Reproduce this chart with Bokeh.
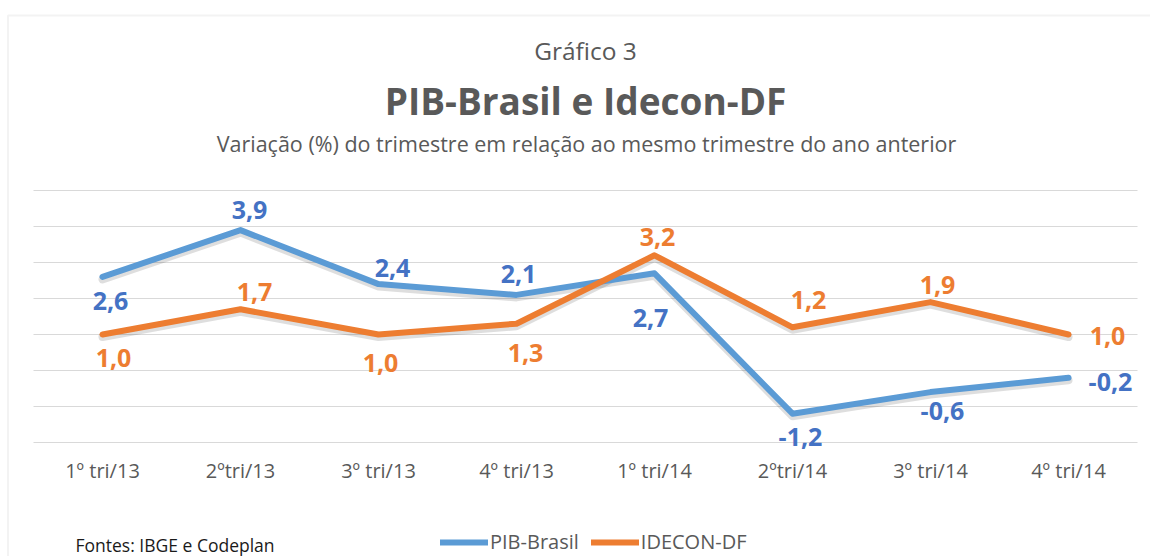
from bokeh.plotting import figure
from bokeh.models import (Range1d, Legend, LegendItem, BoxAnnotation, ColumnDataSource)
from bokeh.transform import dodge
from bokeh.core.properties import value
from bokeh.embed import file_html
from bokeh.resources import INLINE

# ---------------- data ----------------
quarters = ["1º tri/13", "2ºtri/13", "3º tri/13", "4º tri/13",
            "1º tri/14", "2ºtri/14", "3º tri/14", "4º tri/14"]
pib_brasil = [2.6, 3.9, 2.4, 2.1, 2.7, -1.2, -0.6, -0.2]
idecon_df = [1.0, 1.7, 1.0, 1.3, 3.2, 1.2, 1.9, 1.0]
y_ticks = [-2, -1, 0, 1, 2, 3, 4, 5]

# label placement (style: screen px offsets from each point)
pib_dx = [8, 9, 14, 2, -4, 8, 12, 42]
pib_dy = [24, -20, -16, -21, 45, 23, 19, 4]
ide_dx = [11, 14, 2, 9, 3, 16, 7, 39]
ide_dy = [23, -17, 28, 29, -18, -27, -17, 1]

FONT = "Open Sans"
BLUE_LINE = "#5B9BD5"
BLUE_TXT = "#4472C4"
ORANGE = "#ED7D31"
GRAY = "#595959"

# ---------------- layout (pixels, canvas coordinates) ----------------
W, H = 1150, 556
PLOT_L, PLOT_R = 33, 1137   # x extent of the category band
Y_TOP_PX, PX_PER_UNIT = 190, 36.0
N = len(quarters)
BAND = (PLOT_R - PLOT_L) / N
YMAX = max(y_ticks)


def px(cx):
    return (cx - PLOT_L) / BAND


def py(cy):
    return YMAX - (cy - Y_TOP_PX) / PX_PER_UNIT


def fmt(v):
    return f"{v:.1f}".replace(".", ",")


p = figure(width=W, height=H, title=None,
           x_range=Range1d(px(0), px(W)), y_range=Range1d(py(H), py(0)),
           output_backend="svg", toolbar_location=None,
           x_axis_location=None, y_axis_location=None, min_border=0)
p.outline_line_color = None
p.background_fill_color = "white"
p.border_fill_color = "white"
p.xgrid.visible = False
p.ygrid.visible = False

xc = [i + 0.5 for i in range(N)]

# horizontal gridlines across the category band
p.segment(x0=[0] * len(y_ticks), x1=[N] * len(y_ticks), y0=y_ticks, y1=y_ticks,
          line_color="#d9d9d9", line_width=1)

# category labels
p.text(x=xc, y=[py(470)] * N, text=quarters, text_align="center",
       text_baseline="middle", text_font=value(FONT), text_font_size="20px",
       text_color=GRAY)

src_b = ColumnDataSource(dict(x=xc, y=pib_brasil, lab=[fmt(v) for v in pib_brasil],
                              dx=pib_dx, dy=pib_dy))
src_o = ColumnDataSource(dict(x=xc, y=idecon_df, lab=[fmt(v) for v in idecon_df],
                              dx=ide_dx, dy=ide_dy))

# soft shadows
for src in (src_b, src_o):
    p.line(x="x", y=dodge("y", -0.07, range=p.y_range), source=src,
           line_color="black", line_alpha=0.13, line_width=8,
           line_cap="round", line_join="round")

rb = p.line(x="x", y="y", source=src_b, line_color=BLUE_LINE, line_width=6,
            line_cap="round", line_join="round")
ro = p.line(x="x", y="y", source=src_o, line_color=ORANGE, line_width=6,
            line_cap="round", line_join="round")

for src, col in ((src_b, BLUE_TXT), (src_o, ORANGE)):
    p.text(x="x", y="y", text="lab", x_offset="dx", y_offset="dy", source=src,
           text_align="center", text_baseline="middle",
           text_font=value(FONT), text_font_style="bold",
           text_font_size="25px", text_color=col)

# titles
p.text(x=[px(585)], y=[py(50)], text=["Gráfico 3"], text_align="center",
       text_baseline="middle", text_font=value(FONT), text_font_size="24.5px",
       text_color=GRAY)
p.text(x=[px(585)], y=[py(100)], text=["PIB-Brasil e Idecon-DF"], text_align="center",
       text_baseline="middle", text_font=value(FONT), text_font_style="bold",
       text_font_size="37px", text_color=GRAY)
p.text(x=[px(586)], y=[py(143)],
       text=["Variação (%) do trimestre em relação ao mesmo trimestre do ano anterior"],
       text_align="center", text_baseline="middle", text_font=value(FONT),
       text_font_size="21.5px", text_color=GRAY)
p.text(x=[px(75)], y=[py(544)], text=["Fontes: IBGE e Codeplan"], text_align="left",
       text_baseline="middle", text_font=value(FONT), text_font_size="17.5px",
       text_color="#1a1a1a")

# outer chart border (top + left)
p.add_layout(BoxAnnotation(left=px(7.5), right=px(1400), top=py(15), bottom=py(900),
                           fill_alpha=0, line_color="#d6d6d6", line_width=2))

legend = Legend(items=[LegendItem(label="PIB-Brasil", renderers=[rb]),
                       LegendItem(label="IDECON-DF", renderers=[ro])],
                orientation="horizontal", location=(440, 1),
                background_fill_alpha=0, border_line_color=None,
                padding=0, margin=0, spacing=12, label_standoff=2,
                glyph_width=48, glyph_height=18, label_height=18,
                label_text_font=FONT, label_text_font_size="20px",
                label_text_color=GRAY)
p.add_layout(legend)

open("out.html", "w").write(file_html(p, INLINE))
